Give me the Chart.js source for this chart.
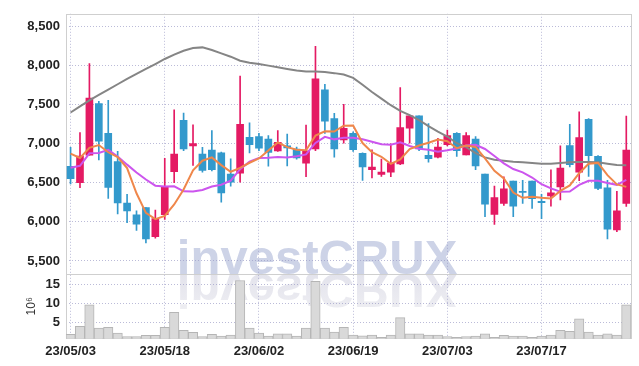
<!DOCTYPE html>
<html>
<head>
<meta charset="utf-8">
<script src="https://cdn.jsdelivr.net/npm/chart.js@4/dist/chart.umd.min.js"></script>
<style>
  html, body { margin: 0; padding: 0; background: #fff; }
  #wrap { width: 639px; height: 366px; }
</style>
</head>
<body>
<div id="wrap"><canvas id="stockChart"></canvas></div>
<script>
// trading days, yy/mm/dd
const dates = [
  '23/05/03','23/05/04','23/05/08','23/05/09','23/05/10','23/05/11','23/05/12','23/05/15','23/05/16','23/05/17',
  '23/05/18','23/05/19','23/05/22','23/05/23','23/05/24','23/05/25','23/05/26','23/05/30','23/05/31','23/06/01',
  '23/06/02','23/06/05','23/06/07','23/06/08','23/06/09','23/06/12','23/06/13','23/06/14','23/06/15','23/06/16',
  '23/06/19','23/06/20','23/06/21','23/06/22','23/06/23','23/06/26','23/06/27','23/06/28','23/06/29','23/06/30',
  '23/07/03','23/07/04','23/07/05','23/07/06','23/07/07','23/07/10','23/07/11','23/07/12','23/07/13','23/07/14',
  '23/07/17','23/07/18','23/07/19','23/07/20','23/07/21','23/07/24','23/07/25','23/07/26','23/07/27','23/07/28'
];

const opens = [
  6710, 6500, 6850, 7510, 7130, 6770, 6240, 6090, 6180, 5810,
  6090, 6640, 7295, 6970, 6865, 6915, 6880, 6610, 6620, 7080,
  7090, 7055, 6905, 6970, 6930, 6750, 6930, 7685, 7320, 7045,
  7130, 6875, 6665, 6605, 6635, 6740, 7195, 7355, 6850, 6825,
  6985, 7130, 6855, 7055, 6610, 6095, 6235, 6520, 6390, 6520,
  6260, 6330, 6445, 6975, 6635, 7310, 6835, 6435, 5895, 6235
];
const highs = [
  6950, 7140, 8020, 7540, 7550, 6900, 6350, 6140, 6180, 6150,
  6810, 7430, 7390, 7240, 6950, 7165, 6890, 6805, 7860, 7265,
  7130, 7100, 7165, 7120, 6955, 7235, 8240, 7755, 7385, 7500,
  7150, 6880, 6920, 6800, 6995, 7715, 7355, 7355, 7255, 7065,
  7170, 7140, 7140, 7090, 6610, 6455, 6575, 6520, 6530, 6520,
  6350, 6665, 6970, 7245, 7405, 7320, 6845, 6530, 6390, 7350
];
const lows = [
  6485, 6435, 6850, 6790, 6300, 6100, 5990, 5890, 5730, 5790,
  6030, 6500, 6910, 6720, 6635, 6650, 6250, 6455, 6505, 6880,
  6910, 6710, 6900, 6715, 6800, 6575, 6910, 7130, 6825, 7005,
  6900, 6530, 6560, 6580, 6575, 6730, 7005, 6910, 6760, 6815,
  6970, 6835, 6855, 6665, 6065, 5965, 6210, 6065, 6235, 6170,
  6040, 6200, 6280, 6700, 6525, 6580, 6410, 5780, 5875, 6195
];
const closes = [
  6550, 6840, 7580, 7030, 6440, 6240, 6140, 5970, 5780, 6040,
  6450, 6865, 6930, 7000, 6655, 6665, 6370, 6505, 7245, 6985,
  6940, 6885, 7015, 6945, 6815, 6905, 7825, 7285, 6930, 7195,
  6920, 6700, 6700, 6635, 6750, 7205, 7355, 6930, 6805, 6955,
  7100, 6910, 7100, 6715, 6225, 6310, 6420, 6200, 6375, 6295,
  6245, 6370, 6685, 6730, 7075, 6845, 6425, 5905, 6140, 6915
];

// moving averages as drawn (5, 10, 60 days)
const ma5 = [
  6870, 6815, 6945, 6980, 6888, 6826, 6686, 6364, 6114, 6034,
  6076, 6221, 6413, 6657, 6780, 6823, 6724, 6639, 6688, 6754,
  6809, 6912, 7014, 6954, 6920, 6913, 7101, 7155, 7152, 7228,
  7231, 7006, 6889, 6830, 6741, 6798, 6929, 6975, 7009, 7050,
  7029, 6940, 6974, 6956, 6810, 6652, 6554, 6374, 6306, 6320,
  6307, 6297, 6394, 6465, 6621, 6741, 6752, 6596, 6478, 6446
];
const ma10 = [
  6690, 6715, 6875, 6878, 6920, 6835, 6730, 6630, 6540, 6461,
  6451, 6454, 6389, 6386, 6407, 6450, 6473, 6526, 6673, 6767,
  6816, 6818, 6827, 6821, 6837, 6861, 7007, 7085, 7053, 7074,
  7072, 7054, 7022, 6991, 6985, 7015, 6968, 6932, 6920, 6896,
  6914, 6935, 6975, 6983, 6930, 6841, 6747, 6674, 6631, 6565,
  6480, 6426, 6384, 6386, 6471, 6524, 6525, 6495, 6472, 6534
];
const ma60 = [
  7396, 7475, 7552, 7620, 7687, 7757, 7827, 7890, 7953, 8015,
  8080, 8135, 8185, 8220, 8228, 8195, 8152, 8109, 8058, 8033,
  8017, 7995, 7975, 7953, 7932, 7919, 7919, 7912, 7899, 7881,
  7839, 7751, 7658, 7573, 7489, 7418, 7362, 7299, 7223, 7152,
  7089, 7004, 6953, 6877, 6823, 6792, 6780, 6767, 6759, 6751,
  6742, 6742, 6751, 6759, 6763, 6763, 6759, 6742, 6725, 6721
];

// volume, millions of shares
const volumes = [
  1.8, 3.9, 9.6, 3.4, 3.6, 2.1, 1.2, 1.2, 1.5, 1.5,
  3.6, 7.6, 2.8, 2.3, 1.2, 1.8, 1.3, 1.6, 16.0, 3.4,
  2.1, 1.3, 1.9, 1.9, 1.3, 3.4, 15.8, 3.4, 2.4, 3.6,
  1.6, 1.4, 1.6, 1.0, 1.6, 6.2, 1.9, 1.9, 1.6, 1.6,
  1.2, 1.0, 1.2, 1.3, 1.9, 1.0, 1.5, 1.3, 1.3, 1.0,
  1.3, 1.6, 2.8, 2.6, 5.9, 2.4, 1.6, 1.9, 1.6, 9.6
];

// tick values
const priceTicks = [5500, 6000, 6500, 7000, 7500, 8000, 8500];
const volTicks = [5, 10, 15];

const UP = '#e41a63';
const DOWN = '#3399cc';
const candleColors = closes.map((c, i) => c >= opens[i] ? UP : DOWN);

const gridColor = 'rgba(150,150,195,0.65)';
const frameColor = '#cfcfcf';
const tickFont = { family: 'Liberation Sans', size: 13, weight: 'bold' };

// watermark behind the grid, with its reflection
const watermark = {
  id: 'watermark',
  beforeDraw(chart) {
    const ctx = chart.ctx;
    const base = chart.scales.y.bottom;
    const x = chart.chartArea.left + 111;
    ctx.save();
    ctx.font = 'bold 49px "Liberation Sans"';
    ctx.textBaseline = 'alphabetic';
    ctx.fillStyle = '#cdd3e7';
    ctx.fillText('investCRUX', x, base);
    ctx.translate(0, base);
    ctx.scale(1, -1);
    const g = ctx.createLinearGradient(0, 0, 0, -40);
    g.addColorStop(0, '#e3e3ec');
    g.addColorStop(1, '#efeff3');
    ctx.fillStyle = g;
    ctx.fillText('investCRUX', x, 0);
    ctx.restore();
  }
};

// light frame round each panel
const panelFrame = {
  id: 'panelFrame',
  beforeDatasetsDraw(chart) {
    const { ctx, chartArea } = chart;
    ctx.save();
    ctx.strokeStyle = frameColor;
    ctx.lineWidth = 1;
    ['y', 'yVol'].forEach(id => {
      const s = chart.scales[id];
      ctx.strokeRect(Math.round(chartArea.left) + 0.5, Math.round(s.top) + 0.5,
        Math.round(chartArea.right - chartArea.left), Math.round(s.bottom - s.top));
    });
    ctx.restore();
  }
};

const ctx = document.getElementById('stockChart').getContext('2d');
new Chart(ctx, {
  type: 'bar',
  data: {
    labels: dates,
    datasets: [
      { type: 'line', label: 'MA5', data: ma5, yAxisID: 'y', borderColor: '#ef874b', borderWidth: 2,
        pointRadius: 0, fill: false, tension: 0, order: 0 },
      { type: 'line', label: 'MA10', data: ma10, yAxisID: 'y', borderColor: '#cc55ee', borderWidth: 2,
        pointRadius: 0, fill: false, tension: 0, order: 0 },
      { type: 'line', label: 'MA60', data: ma60, yAxisID: 'y', borderColor: '#858585', borderWidth: 2,
        pointRadius: 0, fill: false, tension: 0, order: 0 },
      { label: 'body', data: opens.map((o, i) => [o, closes[i]]), yAxisID: 'y',
        backgroundColor: candleColors, barThickness: 7, grouped: false, order: 2 },
      { label: 'wick', data: lows.map((l, i) => [l, highs[i]]), yAxisID: 'y',
        backgroundColor: candleColors, barThickness: 1, grouped: false, order: 3 },
      { label: 'volume', data: volumes, yAxisID: 'yVol',
        backgroundColor: '#d9d9d9', borderColor: '#b5b5b5', borderWidth: 1,
        barPercentage: 1, categoryPercentage: 1, grouped: false, order: 4 }
    ]
  },
  options: {
    responsive: true,
    maintainAspectRatio: false,
    animation: false,
    layout: { padding: { left: 17, right: 8, top: 9, bottom: 2 } },
    plugins: { legend: { display: false }, tooltip: { enabled: false } },
    scales: {
      x: {
        type: 'category',
        offset: true,
        grid: { offset: false, color: gridColor, drawTicks: false },
        border: { display: false, dash: [1, 2] },
        ticks: {
          autoSkip: false, maxRotation: 0, padding: 5, color: '#222', font: tickFont,
          callback: function (v, i) { return i % 10 === 0 ? this.getLabelForValue(v) : null; }
        }
      },
      yVol: {
        position: 'left', stack: 'panels', stackWeight: 65,
        min: 0.7, max: 17.7,
        afterBuildTicks: s => { s.ticks = volTicks.map(v => ({ value: v })); },
        grid: { color: gridColor, drawTicks: false },
        border: { display: false, dash: [1, 2] },
        title: { display: true, text: '10\u2076', color: '#333',
          font: { family: 'Liberation Sans', size: 12 }, padding: { top: 7, bottom: 1 } },
        ticks: { autoSkip: false, padding: 6, color: '#222', font: tickFont }
      },
      y: {
        position: 'left', stack: 'panels', stackWeight: 263,
        min: 5332, max: 8657,
        afterBuildTicks: s => { s.ticks = priceTicks.map(v => ({ value: v })); },
        grid: { color: gridColor, drawTicks: false },
        border: { display: false, dash: [1, 2] },
        ticks: {
          autoSkip: false, padding: 6, color: '#222', font: tickFont,
          callback: v => v.toLocaleString('en-US')
        }
      }
    }
  },
  plugins: [watermark, panelFrame]
});
</script>
</body>
</html>
